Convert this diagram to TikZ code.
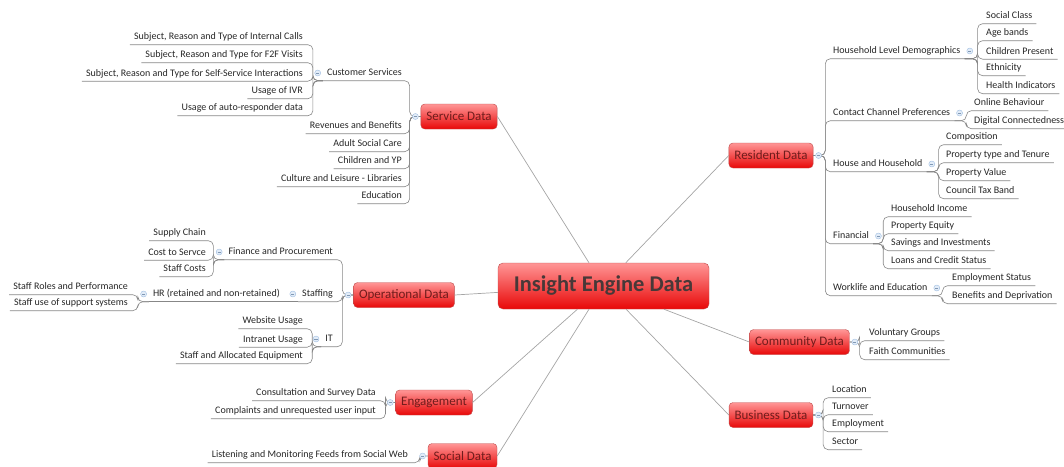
\documentclass[tikz,border=0pt]{standalone}
\usepackage{fontspec}
\setmainfont{Carlito}
\usepackage{tikz}
\usetikzlibrary{positioning}
\definecolor{linegray}{RGB}{135,135,135}
\definecolor{spokegray}{RGB}{165,165,165}
\definecolor{boxtop}{RGB}{255,150,150}
\definecolor{boxbot}{RGB}{232,8,8}
\definecolor{boxedge}{RGB}{190,75,75}
\definecolor{boxtext}{RGB}{112,28,28}
\definecolor{hubtext}{RGB}{72,56,56}
\definecolor{mkfill}{RGB}{226,236,248}
\definecolor{mkedge}{RGB}{160,190,225}

\begin{document}
\begin{tikzpicture}[x=1pt, y=-1pt,
    hub/.style={rounded corners=5pt, draw=boxedge, top color=boxtop, bottom color=boxbot,
      minimum width=211pt, minimum height=46pt, font=\fontsize{22.5}{24}\selectfont\bfseries, text=hubtext},
    main/.style={rounded corners=4pt, draw=boxedge, top color=boxtop, bottom color=boxbot,
      inner xsep=5.5pt, minimum height=25pt, font=\fontsize{13}{15}\selectfont, text=boxtext},
    topic/.style={font=\fontsize{10}{12}\selectfont, text=black!85, inner xsep=4pt, inner ysep=2.5pt,
      text height=7.5pt, text depth=2.5pt},
    mk/.style={circle, draw=mkedge, fill=mkfill, inner sep=0pt, minimum size=6pt,
      path picture={\draw[mkedge!80!black, line width=0.5pt]
        ([xshift=-1.6pt]path picture bounding box.center) -- ([xshift=1.6pt]path picture bounding box.center);}},
    link/.style={draw=linegray, line width=0.6pt, rounded corners=5pt},
    spoke/.style={draw=spokegray, line width=0.7pt}]
    \useasboundingbox (0,0) rectangle (1064,466);
    \node[hub] (hub) at (603.5,286) {Insight Engine Data};
    \foreach \x/\y/\name/\txt in {459/116.5/svc/Service Data, 404/295/ops/Operational Data,
        434/402.5/eng/Engagement, 462.5/456/soc/Social Data, 771/155.5/res/Resident Data,
        799.5/342/com/Community Data, 771/415/bus/Business Data} {
      \node[main] (\name) at (\x,\y) {\txt};
    }
    \foreach \name/\side in {svc/east, ops/east, eng/east, soc/east, res/west, com/west, bus/west}
      \draw[spoke] (hub) -- (\name.\side);

    \foreach \y/\name/\txt in {73/cs/Customer Services, 126/rb/Revenues and Benefits, 144/asc/Adult Social Care,
        161/cyp/Children and YP, 179/cll/Culture and Leisure - Libraries, 196/edu/Education} {
      \node[topic, anchor=east] (\name) at (406,\y) {\txt};
      \draw[link] (svc.west) -- ++(-11,0) |- (\name.south west);
    }
    \foreach \y/\name/\txt in {37/ic/{Subject, Reason and Type of Internal Calls},
        55/ffv/{Subject, Reason and Type for F2F Visits},
        73.5/ssi/{Subject, Reason and Type for Self-Service Interactions},
        91/ivr/Usage of IVR, 108/ard/Usage of auto-responder data} {
      \node[topic, anchor=east] (\name) at (307,\y) {\txt};
      \draw[link] (cs.south west) -- ++(-10,0) |- (\name.south west);
    }

    \foreach \y/\name/\txt in {252/fp/Finance and Procurement, 294/stf/Staffing, 339/it/IT} {
      \node[topic, anchor=east] (\name) at (337,\y) {\txt};
      \draw[link] (ops.west) -- ++(-11,0) |- (\name.south west);
    }
    \foreach \y/\name/\txt in {233/sc/Supply Chain, 252.5/cts/Cost to Servce, 269/stc/Staff Costs} {
      \node[topic, anchor=east] (\name) at (210,\y) {\txt};
      \draw[link] (fp.south west) -- ++(-11,0) |- (\name.south west);
    }
    \node[topic, anchor=east] (hr) at (284,294) {HR (retained and non-retained)};
    \draw[link] (stf.south west) -- (hr.south west);
    \foreach \y/\name/\txt in {287/srp/Staff Roles and Performance, 303/sus/Staff use of support systems} {
      \node[topic, anchor=east] (\name) at (132,\y) {\txt};
      \draw[link] (hr.south west) -- ++(-11,0) |- (\name.south west);
    }
    \foreach \y/\name/\txt in {321/wu/Website Usage, 339.5/iu/Intranet Usage, 356/sae/Staff and Allocated Equipment} {
      \node[topic, anchor=east] (\name) at (307,\y) {\txt};
      \draw[link] (it.south west) -- ++(-9,0) |- (\name.south west);
    }

    \foreach \y/\name/\txt in {393/csd/Consultation and Survey Data, 411/cui/Complaints and unrequested user input} {
      \node[topic, anchor=east] (\name) at (380,\y) {\txt};
      \draw[link] (eng.west) -- ++(-10,0) |- (\name.south west);
    }
    \node[topic, anchor=east] (lmf) at (412,455) {Listening and Monitoring Feeds from Social Web};
    \draw[link] (soc.west) -- ++(-8,0) |- (lmf.south west);

    \foreach \y/\name/\txt in {51/hld/Household Level Demographics, 113/ccp/Contact Channel Preferences,
        164/hh/House and Household, 236/fin/Financial, 288/wle/Worklife and Education} {
      \node[topic, anchor=west] (\name) at (829,\y) {\txt};
      \draw[link] (res.east) -- ++(12,0) |- (\name.south east);
    }
    \foreach \y/\name/\txt in {16/scl/Social Class, 33/agb/Age bands, 51.5/chp/Children Present,
        68/eth/Ethnicity, 86/hin/Health Indicators} {
      \node[topic, anchor=west] (\name) at (982,\y) {\txt};
      \draw[link] (hld.south east) -- ++(13,0) |- (\name.south east);
    }
    \foreach \y/\name/\txt in {103/olb/Online Behaviour, 121/dgc/Digital Connectedness} {
      \node[topic, anchor=west] (\name) at (970,\y) {\txt};
      \draw[link] (ccp.south east) -- ++(12,0) |- (\name.south east);
    }
    \foreach \y/\name/\txt in {137/cmp/Composition, 155/ptt/Property type and Tenure,
        173/pv/Property Value, 191/ctb/Council Tax Band} {
      \node[topic, anchor=west] (\name) at (942,\y) {\txt};
      \draw[link] (hh.south east) -- ++(12,0) |- (\name.south east);
    }
    \foreach \y/\name/\txt in {209/hi/Household Income, 226/peq/Property Equity,
        243/sav/Savings and Investments, 261/lcs/Loans and Credit Status} {
      \node[topic, anchor=west] (\name) at (887,\y) {\txt};
      \draw[link] (fin.south east) -- ++(10,0) |- (\name.south east);
    }
    \foreach \y/\name/\txt in {278/ems/Employment Status, 296/bdp/Benefits and Deprivation} {
      \node[topic, anchor=west] (\name) at (948,\y) {\txt};
      \draw[link] (wle.south east) -- ++(11,0) |- (\name.south east);
    }
    \foreach \y/\name/\txt in {333/vg/Voluntary Groups, 352/fc/Faith Communities} {
      \node[topic, anchor=west] (\name) at (865,\y) {\txt};
      \draw[link] (com.east) -- ++(10,0) |- (\name.south east);
    }
    \foreach \y/\name/\txt in {390/loc/Location, 407/tov/Turnover, 424/emp/Employment, 442/sec/Sector} {
      \node[topic, anchor=west] (\name) at (828,\y) {\txt};
      \draw[link] (bus.east) -- ++(10,0) |- (\name.south east);
    }

    \foreach \name in {svc, ops, eng, soc, cs, fp, stf, hr, it}
      \node[mk, left=2pt of \name] {};
    \foreach \name in {res, com, bus, hld, ccp, hh, fin, wle}
      \node[mk, right=2pt of \name] {};
\end{tikzpicture}
\end{document}
